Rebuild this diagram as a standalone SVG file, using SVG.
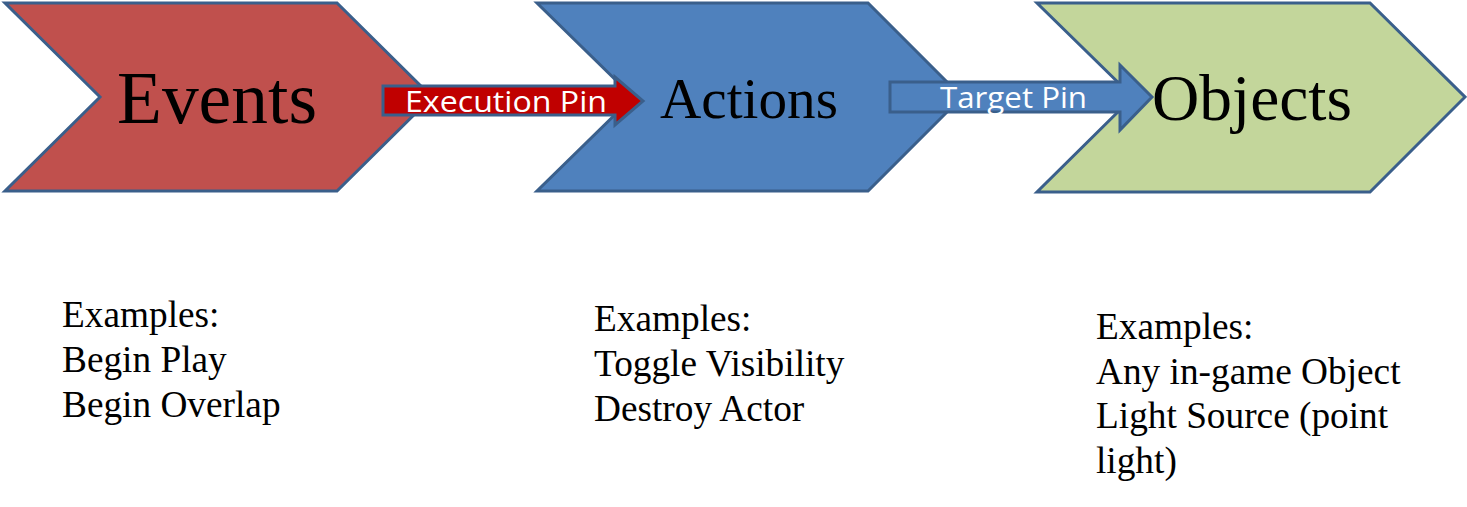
<svg xmlns="http://www.w3.org/2000/svg" width="1467" height="507" viewBox="0 0 1467 507">
<style>
.chev{stroke:#3A5F8B;stroke-width:3;stroke-linejoin:miter}
.big{font-family:"Liberation Serif","Times New Roman",serif;fill:#000}
.pin{font-family:"Open Sans","Liberation Sans",sans-serif;font-size:30px;fill:#fff}
.ex{font-family:"Liberation Serif","Times New Roman",serif;font-size:37.3px;fill:#000}
</style>
<rect width="1467" height="507" fill="#fff"/>
<g id="events">
<polygon class="chev" fill="#C0504D" points="5,3 337,3 432,97 337,191 5,191 100,97"/>
<text class="big" x="117" y="123" font-size="75" textLength="200" lengthAdjust="spacingAndGlyphs">Events</text>
</g>
<g id="actions">
<polygon class="chev" fill="#4F81BD" points="537,3 868,3 962,97 868,191 537,191 633,97"/>
<text class="big" x="660" y="118" font-size="58" textLength="178" lengthAdjust="spacingAndGlyphs">Actions</text>
</g>
<g id="objects">
<polygon class="chev" fill="#C3D69B" points="1037,3 1370,3 1465,97 1370,192 1037,192 1133,97"/>
<text class="big" x="1152" y="120" font-size="66" textLength="200" lengthAdjust="spacingAndGlyphs">Objects</text>
</g>
<g id="connectors">
<g id="execution-pin">
<polygon fill="#C00000" stroke="#3A5F8B" stroke-width="3" points="383,86 615,86 615,77 643,101 615,125 615,115 383,115"/>
<text class="pin" x="405" y="112" textLength="202" lengthAdjust="spacingAndGlyphs">Execution Pin</text>
</g>
<g id="target-pin">
<polygon fill="#4F81BD" stroke="#3A5F8B" stroke-width="3" points="890,82 1120,82 1120,65 1152,97 1120,130 1120,112 890,112"/>
<text class="pin" x="940" y="108" textLength="147" lengthAdjust="spacingAndGlyphs">Target Pin</text>
</g>
</g>
<g id="events-examples">
<text class="ex" x="62" y="327">Examples:</text>
<text class="ex" x="62" y="372">Begin Play</text>
<text class="ex" x="62" y="417">Begin Overlap</text>
</g>
<g id="actions-examples">
<text class="ex" x="594" y="331">Examples:</text>
<text class="ex" x="594" y="376">Toggle Visibility</text>
<text class="ex" x="594" y="421">Destroy Actor</text>
</g>
<g id="objects-examples">
<text class="ex" x="1096" y="339">Examples:</text>
<text class="ex" x="1096" y="384">Any in-game Object</text>
<text class="ex" x="1096" y="428">Light Source (point</text>
<text class="ex" x="1096" y="473">light)</text>
</g>
</svg>
